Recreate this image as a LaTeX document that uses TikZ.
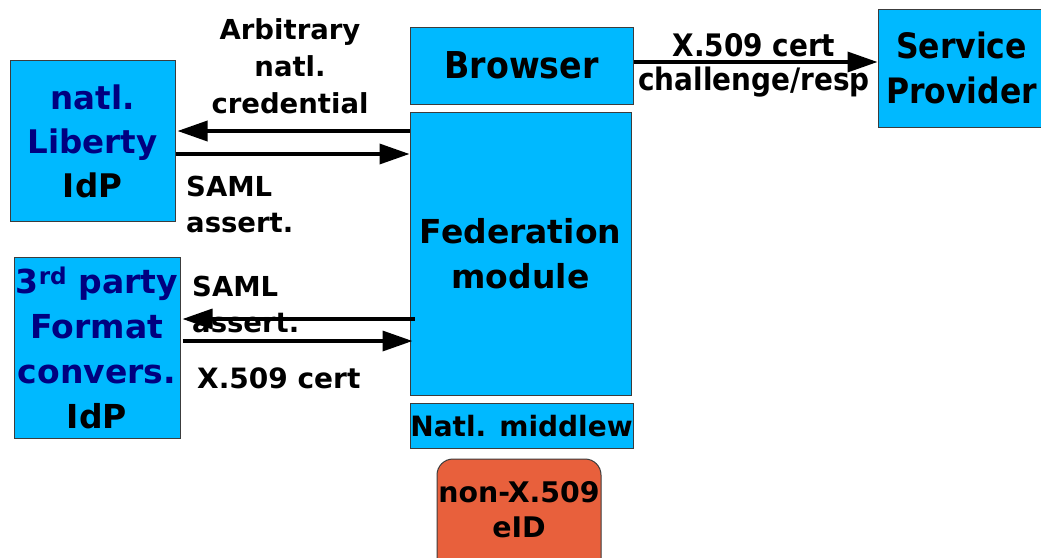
\documentclass[tikz,border=0pt]{standalone}
\usepackage{fontspec}
\setmainfont{DejaVu Sans}
\newfontfamily\condfont{DejaVu Sans Condensed}
\usetikzlibrary{arrows.meta}
\definecolor{boxblue}{RGB}{0,185,255}
\definecolor{eidorange}{RGB}{232,96,60}
\definecolor{navytext}{RGB}{0,0,128}
\definecolor{edgegray}{RGB}{60,60,60}
\tikzset{
  box/.style={draw=edgegray, line width=1pt, fill=boxblue, inner sep=0pt, align=center, font=\bfseries},
  lbl/.style={inner sep=0pt, font=\bfseries},
  arr/.style={line width=3.5pt, -{Triangle[length=30pt,width=20pt]}},
}
\begin{document}
\begin{tikzpicture}[x=1pt,y=1pt]
\useasboundingbox (0,0) rectangle (1041,-557);
\clip (0,0) rectangle (1041,-557);
\fill[white] (0,0) rectangle (1041,-557);

\node[box, minimum width=165pt, minimum height=161pt, font=\bfseries\fontsize{32.5}{44}\selectfont] (lib) at (92.5,-141)
  {\textcolor{navytext}{natl.}\\\textcolor{navytext}{Liberty}\\IdP};
\node[box, minimum width=166pt, minimum height=181pt, font=\bfseries\fontsize{33}{45}\selectfont] (tp) at (97,-347.5)
  {\textcolor{navytext}{3\textsuperscript{rd} party}\\\textcolor{navytext}{Format}\\\textcolor{navytext}{convers.}\\IdP};
\node[box, minimum width=223pt, minimum height=77pt, font=\condfont\bfseries\fontsize{37}{45}\selectfont] (br) at (521.5,-65.5)
  {Browser};
\node[box, minimum width=221pt, minimum height=283pt, font=\bfseries\fontsize{33}{45}\selectfont] (fed) at (520.5,-253.5)
  {Federation\\module};
\node[box, minimum width=223pt, minimum height=45pt, font=\bfseries\fontsize{28}{34}\selectfont] (mw) at (521.5,-426)
  {Natl. middlew};
\node[box, fill=eidorange, rounded corners=16pt, minimum width=164pt, minimum height=125pt] (eid) at (519,-521.5) {};
\node[lbl, align=center, font=\bfseries\fontsize{28.4}{35}\selectfont] (eidt) at (519,-509.5) {non-X.509\\eID};
\node[box, minimum width=167pt, minimum height=118pt, font=\condfont\bfseries\fontsize{35}{45}\selectfont] (sp) at (961.5,-68)
  {Service\\Provider};

\node[lbl, align=center, font=\bfseries\fontsize{27.5}{37}\selectfont] (arb) at (290,-66) {Arbitrary\\natl.\\credential};
\node[lbl, align=left, anchor=west, font=\bfseries\fontsize{27.5}{36}\selectfont] (saml1) at (186,-204) {SAML\\assert.};
\node[lbl, align=left, anchor=west, font=\bfseries\fontsize{27.5}{36}\selectfont] (saml2) at (192,-304) {SAML\\assert.};
\node[lbl, anchor=west, font=\bfseries\fontsize{28}{34}\selectfont] (x509b) at (197,-378) {X.509 cert};
\node[lbl, font=\condfont\bfseries\fontsize{31}{36}\selectfont] (x509t) at (754,-45) {X.509 cert};
\node[lbl, font=\condfont\bfseries\fontsize{31}{36}\selectfont] (chal) at (754,-82) {challenge/resp};

\draw[arr] ([yshift=122.5pt]fed.west) -- ([xshift=2pt,yshift=10pt]lib.east);
\draw[arr] ([yshift=-13pt]lib.east) -- ([yshift=99.5pt]fed.west);
\draw[arr] ([xshift=5pt,yshift=-65.5pt]fed.west) -- ([xshift=2pt,yshift=28.5pt]tp.east);
\draw[arr] ([xshift=2pt,yshift=6.5pt]tp.east) -- ([xshift=3pt,yshift=-87.5pt]fed.west);
\draw[arr] ([yshift=3.5pt]br.east) -- ([yshift=6pt]sp.west);
\end{tikzpicture}
\end{document}
